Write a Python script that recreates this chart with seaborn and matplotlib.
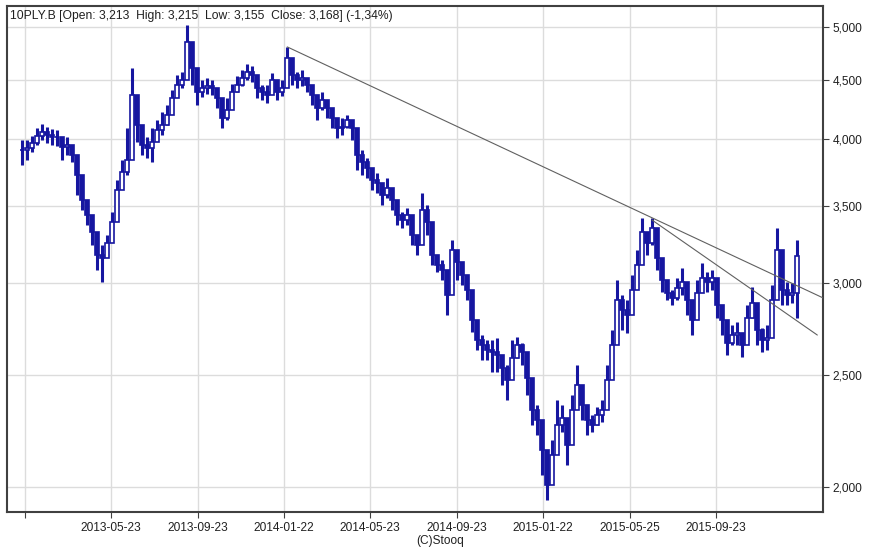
import numpy as np
import pandas as pd
import matplotlib
matplotlib.use("Agg")
import matplotlib.pyplot as plt
from matplotlib.ticker import FixedLocator, FuncFormatter, NullLocator
import seaborn as sns

# ---- data (weekly readings from the picture) ----
close = [3913, 3929, 3969, 4024, 4056, 4032, 4016, 4016, 3937, 3953,
         3875, 3723, 3543, 3438, 3324, 3175, 3156, 3252, 3391, 3614,
         3746, 3836, 4367, 4114, 3953, 3929, 3977, 4073, 4114, 4196,
         4340, 4454, 4498, 4853, 4608, 4393, 4428, 4445, 4428, 4340,
         4171, 4238, 4393, 4454, 4517, 4571, 4544, 4428, 4393, 4367,
         4498, 4393, 4428, 4701, 4544, 4498, 4517, 4454, 4367, 4255,
         4323, 4255, 4171, 4089, 4097, 4155, 4089, 3875, 3821, 3776,
         3687, 3665, 3578, 3628, 3543, 3438, 3404, 3438, 3304, 3239,
         3473, 3391, 3175, 3112, 3082, 2932, 3207, 3130, 3051, 2962,
         2789, 2680, 2654, 2628, 2617, 2602, 2535, 2475, 2586, 2654,
         2617, 2485, 2332, 2286, 2153, 2008, 2132, 2263, 2295, 2175,
         2332, 2451, 2355, 2286, 2263, 2308, 2332, 2475, 2654, 2903,
         2846, 2817, 2962, 3112, 3324, 3252, 3350, 3156, 3021, 2944,
         2914, 2973, 3009, 2903, 2789, 2944, 3033, 3009, 3033, 2874,
         2789, 2664, 2707, 2718, 2654, 2800, 2885, 2734, 2680, 2691,
         2903, 3207, 2962, 2932, 2944, 3168]
high = [3992, 3992, 4024, 4089, 4122, 4097, 4081, 4073, 4008, 4016,
        3937, 3836, 3628, 3508, 3404, 3271, 3239, 3304, 3459, 3687,
        3836, 4089, 4608, 4323, 4032, 4016, 4089, 4155, 4221, 4281,
        4410, 4544, 4571, 5020, 4729, 4498, 4498, 4517, 4498, 4410,
        4255, 4340, 4463, 4535, 4590, 4645, 4627, 4517, 4454, 4454,
        4562, 4445, 4498, 4805, 4636, 4571, 4590, 4517, 4454, 4367,
        4393, 4323, 4255, 4155, 4171, 4196, 4155, 3969, 3913, 3852,
        3746, 3738, 3650, 3702, 3614, 3508, 3459, 3487, 3370, 3304,
        3592, 3508, 3239, 3175, 3143, 3051, 3271, 3207, 3112, 3051,
        2846, 2734, 2707, 2680, 2680, 2691, 2602, 2550, 2680, 2696,
        2664, 2550, 2379, 2355, 2218, 2069, 2196, 2379, 2355, 2241,
        2402, 2550, 2426, 2332, 2308, 2346, 2379, 2550, 2734, 3021,
        2932, 2903, 3051, 3207, 3418, 3324, 3418, 3239, 3094, 2991,
        2962, 3033, 3094, 2991, 2874, 3021, 3124, 3069, 3082, 2932,
        2874, 2734, 2762, 2778, 2707, 2874, 2979, 2800, 2745, 2762,
        2991, 3350, 3033, 3009, 3003, 3271]
low = [3798, 3836, 3898, 3953, 3993, 3969, 3953, 3945, 3836, 3875,
       3821, 3578, 3473, 3370, 3239, 3082, 3009, 3175, 3304, 3508,
       3687, 3723, 4155, 3977, 3875, 3852, 3821, 3993, 4032, 4114,
       4255, 4367, 4428, 4682, 4454, 4281, 4350, 4375, 4367, 4255,
       4089, 4155, 4323, 4393, 4445, 4498, 4480, 4340, 4323, 4297,
       4428, 4323, 4358, 4608, 4454, 4428, 4445, 4393, 4281, 4155,
       4238, 4171, 4089, 4008, 4032, 4089, 3993, 3761, 3723, 3702,
       3614, 3592, 3508, 3557, 3473, 3370, 3350, 3370, 3239, 3175,
       3370, 3304, 3112, 3069, 3021, 2817, 3130, 3021, 2991, 2903,
       2723, 2628, 2576, 2576, 2515, 2515, 2451, 2379, 2515, 2586,
       2550, 2402, 2263, 2218, 2048, 1949, 2069, 2196, 2232, 2090,
       2263, 2379, 2286, 2218, 2232, 2263, 2277, 2402, 2550, 2789,
       2734, 2718, 2874, 3021, 3239, 3175, 3239, 3082, 2950, 2903,
       2874, 2903, 2932, 2817, 2707, 2874, 2962, 2950, 2962, 2800,
       2707, 2602, 2654, 2654, 2591, 2734, 2800, 2654, 2617, 2628,
       2817, 3051, 2874, 2874, 2885, 2800]
start_date = "2013-01-18"
end_date = "2016-01-16"

tick_dates = ["2013-01-22", "2013-05-23", "2013-09-23", "2014-01-22", "2014-05-23",
              "2014-09-23", "2015-01-22", "2015-05-25", "2015-09-23"]
tick_labels = ["", "2013-05-23", "2013-09-23", "2014-01-22", "2014-05-23",
               "2014-09-23", "2015-01-22", "2015-05-25", "2015-09-23"]
y_ticks = [2000, 2500, 3000, 3500, 4000, 4500, 5000]

trend1_dates = ["2014-01-27", "2016-02-21"]
trend1_values = [4805, 2915]
trend2_dates = ["2015-06-25", "2016-02-13"]
trend2_values = [3404, 2707]

title_text = "10PLY.B [Open: 3,213  High: 3,215  Low: 3,155  Close: 3,168] (-1,34%)"
credit_text = "(C)Stooq"

# ---- figure ----
sns.set_style("white")
plt.rcParams["font.family"] = ["Liberation Sans", "DejaVu Sans"]

W, H = 880, 550
fig = plt.figure(figsize=(W / 100, H / 100), dpi=100)
ax = fig.add_axes([7 / W, 1 - 512 / H, (823 - 7) / W, (512 - 6) / H])

dates = pd.date_range(start_date, end_date, periods=len(close))
opens = [close[0]] + close[:-1]
df = pd.DataFrame({"date": dates, "open": opens, "close": close,
                   "high": high, "low": low})
up = df["close"] >= df["open"]
c_blue = "#1616a0"

ax.vlines(df["date"], df["low"], df["high"], color=c_blue, lw=2.2, zorder=3)
ax.bar(df["date"][up], (df["close"] - df["open"])[up], bottom=df["open"][up],
       width=5.6, color="white", edgecolor=c_blue, linewidth=1.2, zorder=4)
ax.bar(df["date"][~up], (df["open"] - df["close"])[~up], bottom=df["close"][~up],
       width=5.6, color=c_blue, edgecolor=c_blue, linewidth=1.2, zorder=4)

trend = pd.DataFrame({
    "date": pd.to_datetime(trend1_dates + trend2_dates),
    "value": trend1_values + trend2_values,
    "line": ["t1", "t1", "t2", "t2"],
})
sns.lineplot(data=trend, x="date", y="value", units="line", estimator=None,
             color="#606060", linewidth=0.8, ax=ax, legend=False, zorder=5)

ax.set_yscale("log")
ax.set_ylim(1903, 5213)
ax.set_xlim(pd.Timestamp("2012-12-28"), pd.Timestamp("2016-02-21"))
ax.yaxis.set_major_locator(FixedLocator(y_ticks))
ax.yaxis.set_minor_locator(NullLocator())
ax.yaxis.set_major_formatter(FuncFormatter(lambda v, _: f"{v:,.0f}"))
ax.yaxis.tick_right()
ax.set_xticks(pd.to_datetime(tick_dates))
ax.set_xticklabels(tick_labels)
ax.set_xlabel("")
ax.set_ylabel("")

ax.tick_params(axis="both", which="major", labelsize=8.6, length=4, width=0.8,
               color="#404040", labelcolor="#202020", pad=3,
               bottom=True, right=True, left=False, top=False)
ax.grid(True, color="#dcdcdc", linewidth=1.0)
ax.set_axisbelow(True)
for s in ax.spines.values():
    s.set_color("#404040")
    s.set_linewidth(1.5)

fig.text(10 / W, 1 - 16 / H, title_text, ha="left", va="center",
         fontsize=8.7, color="#202020")
fig.text(440 / W, 1 - 541 / H, credit_text, ha="center", va="center",
         fontsize=8.6, color="#202020")

fig.savefig("out.png", dpi=100, facecolor="white")
